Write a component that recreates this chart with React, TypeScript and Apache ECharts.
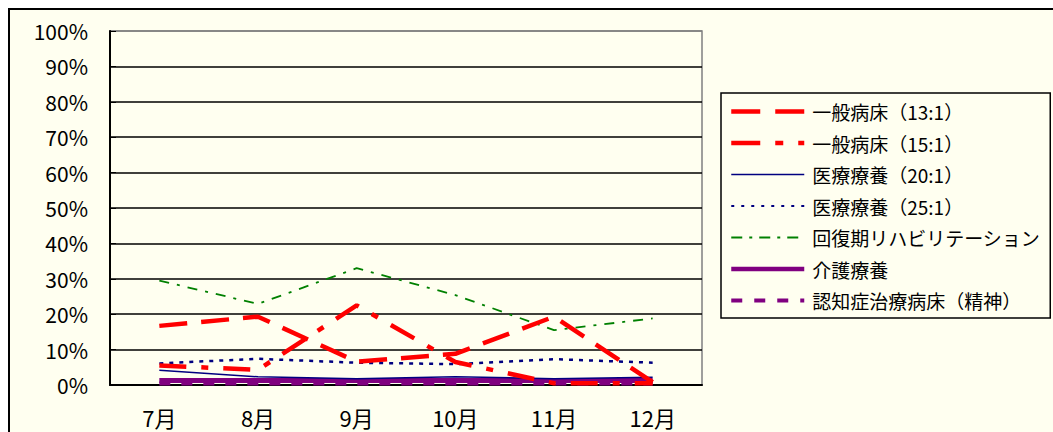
import React, { useEffect, useRef } from "react";
import * as echarts from "echarts";

const categories = ["7月", "8月", "9月", "10月", "11月", "12月"];
const yTicks = [0, 10, 20, 30, 40, 50, 60, 70, 80, 90, 100];

const general13 = [16.7, 19.3, 6.6, 8.8, 19.3, 0.8];
const general15 = [5.5, 4.3, 22.5, 6.5, 0.5, 0.5];
const medical20 = [4.2, 2.3, 1.8, 2.3, 1.8, 2.2];
const medical25 = [6.1, 7.4, 6.3, 5.9, 7.3, 6.3];
const rehab = [29.5, 22.9, 33.0, 25.4, 15.5, 18.8];
const care = [1.3, 1.3, 1.3, 1.3, 1.3, 1.3];
const dementia = [0.4, 0.4, 0.4, 0.4, 0.4, 0.4];

const seriesNames = [
  "一般病床（13:1）",
  "一般病床（15:1）",
  "医療療養（20:1）",
  "医療療養（25:1）",
  "回復期リハビリテーション",
  "介護療養",
  "認知症治療病床（精神）",
];

const FONT = "'Noto Sans CJK JP', 'Noto Sans', sans-serif";
const CREAM = "#FFFFF0";

const styles: { color: string; width: number; type: any }[] = [
  { color: "#FF0000", width: 4.5, type: [28, 14] },
  { color: "#FF0000", width: 4.5, type: [27, 15, 7, 15] },
  { color: "#000080", width: 1.5, type: "solid" },
  { color: "#000080", width: 2.5, type: [4, 6] },
  { color: "#008000", width: 1.8, type: [10, 8, 3, 8] },
  { color: "#800080", width: 5, type: "solid" },
  { color: "#800080", width: 4, type: [11, 11] },
];
const legendStyles: { width: number; type: any }[] = [
  { width: 4.5, type: [29, 15] },
  { width: 4.5, type: [29, 15, 8, 15] },
  { width: 1.5, type: "solid" },
  { width: 2, type: [3, 7] },
  { width: 2, type: [11, 7, 3, 7] },
  { width: 4.5, type: "solid" },
  { width: 4, type: [11, 12] },
];

export default function App() {
  const ref = useRef<HTMLDivElement>(null);
  useEffect(() => {
    if (!ref.current) return;
    const chart = echarts.init(ref.current, undefined, { renderer: "svg" });
    const allData = [general13, general15, medical20, medical25, rehab, care, dementia];
    const zs = [8, 7, 6, 5, 4, 3, 2];
    const gridColors = yTicks.map((t) => (t === 100 ? "#808080" : "#000000"));
    chart.setOption({
      animation: false,
      backgroundColor: "transparent",
      textStyle: { fontFamily: FONT },
      grid: {
        left: 110,
        top: 31,
        width: 592,
        height: 354,
        show: true,
        borderColor: "#808080",
        borderWidth: 1.5,
        backgroundColor: "transparent",
      },
      xAxis: {
        type: "category",
        data: categories,
        boundaryGap: true,
        axisLine: { lineStyle: { color: "#000", width: 2 } },
        axisTick: { inside: true, length: 4, lineStyle: { color: "#000" } },
        axisLabel: { color: "#000", fontSize: 22, fontFamily: FONT, margin: 21 },
      },
      yAxis: {
        type: "value",
        min: 0,
        max: 100,
        interval: 10,
        axisLine: { show: true, lineStyle: { color: "#000", width: 2 } },
        axisTick: { show: true, inside: true, length: 6, lineStyle: { color: "#000" } },
        axisLabel: {
          color: "#000",
          fontSize: 21,
          fontFamily: FONT,
          margin: 22,
          formatter: (v: number) => v + "%",
        },
        splitLine: { show: true, lineStyle: { color: gridColors, width: 1.5 } },
      },
      legend: {
        orient: "vertical",
        left: 721,
        top: 93,
        padding: [9, 10, 8, 8],
        borderColor: "#000",
        borderWidth: 1.5,
        backgroundColor: CREAM,
        itemWidth: 73,
        itemHeight: 18,
        itemGap: 12.5,
        textStyle: { fontSize: 19, lineHeight: 18, fontFamily: FONT, color: "#000", padding: [0, 0, 0, 3] },
        data: seriesNames.map((name, i) => ({
          name,
          itemStyle: { opacity: 0 },
          lineStyle: { color: styles[i].color, width: legendStyles[i].width, type: legendStyles[i].type },
        })),
      },
      series: seriesNames.map((name, i) => ({
        name,
        type: "line",
        data: allData[i],
        symbol: "none",
        z: zs[i],
        lineStyle: { color: styles[i].color, width: styles[i].width, type: styles[i].type },
        itemStyle: { color: styles[i].color },
      })),
    });
    return () => chart.dispose();
  }, []);
  return (
    <div style={{ position: "fixed", left: 0, top: 0, width: 1053, height: 432, background: "#fff", overflow: "hidden" }}>
      <div
        style={{
          position: "absolute",
          left: 8,
          top: 8,
          width: 1100,
          height: 500,
          border: "2px solid #000",
          background: CREAM,
        }}
      />
      <div ref={ref} style={{ position: "absolute", left: 0, top: 0, width: 1053, height: 432 }} />
    </div>
  );
}
